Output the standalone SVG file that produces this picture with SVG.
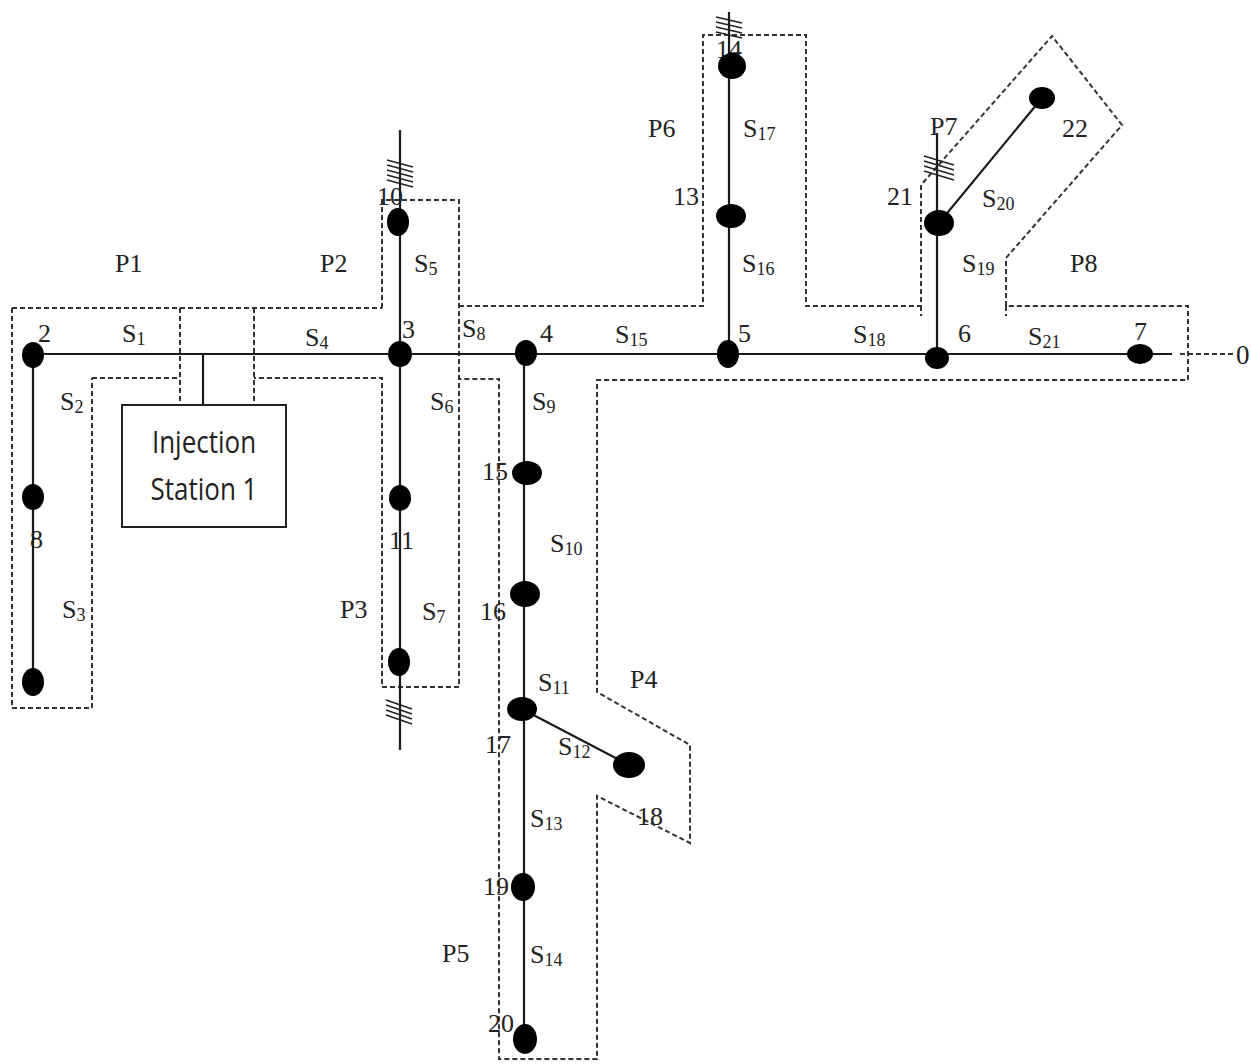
<svg xmlns="http://www.w3.org/2000/svg" width="1251" height="1064" viewBox="0 0 1251 1064">
<style>
.pipe{stroke:#1a1a1a;stroke-width:2.2;fill:none}
.dash{stroke:#333;stroke-width:2;fill:none;stroke-dasharray:5 3}
.hatch{stroke:#222;stroke-width:1.6;fill:none}
.node{fill:#000}
.lbl{font-family:"Liberation Serif","Times New Roman",serif;font-size:26px;fill:#222}
.sub{font-size:18px}
.box{fill:#fff;stroke:#222;stroke-width:2}
.boxt{font-family:"Open Sans","Liberation Sans",sans-serif;font-size:26px;fill:#222;text-anchor:middle}
</style>
<rect width="1251" height="1064" fill="#fff"/>
<g id="partitions">
<path class="dash" d="M12,308 H382 M382,308 V200 H459 V687 H382 V378 H254 M254,308 V405 M180,308 V405 M92,378 H180 M12,308 V708 H92 V378"/>
<path class="dash" d="M459,306 H703 V35 H806 V306 H921 V185 L1052,36 L1122,125 L1006,258 V306 H1188 V380 H597 V692 L690,745 V843 L597,796 V1059 H499 V379 H459"/>
<path class="dash" d="M921,306 V316 M1006,306 V316"/>
</g>
<g id="connectors">
<path class="pipe" d="M33,354 H1172"/>
<path class="dash" d="M1180,354 H1233"/>
<path class="pipe" d="M203,354 V405"/>
<path class="pipe" d="M33,354 V682"/>
<path class="pipe" d="M400,130 V750"/>
<path class="pipe" d="M524,353 V1038"/>
<path class="pipe" d="M729,12 V354"/>
<path class="pipe" d="M937,133 V358"/>
<path class="pipe" d="M522,709 L629,765"/>
<path class="pipe" d="M939,223 L1042,98"/>
</g>
<g id="hatches">
<path class="hatch" d="M387,160 l26,7 M387,165 l26,7 M387,170 l26,7 M387,175 l26,7 M387,180 l26,7"/>
<path class="hatch" d="M386,700 l26,9 M386,705 l26,9 M386,710 l26,9 M386,715 l26,9"/>
<path class="hatch" d="M716,17 l26,6 M716,22 l26,6 M716,27 l26,6 M716,32 l26,6"/>
<path class="hatch" d="M924,156 l30,9 M924,161 l30,9 M924,166 l30,9 M924,171 l30,9"/>
</g>
<g id="injection-station">
<rect class="box" x="122" y="405" width="164" height="122"/>
<text class="boxt" transform="translate(204,453) scale(1,1.18)">Injection</text>
<text class="boxt" transform="translate(204,500) scale(1,1.18)">Station 1</text>
</g>
<g id="labels-under">
<text class="lbl" x="716" y="58">14</text>
</g>
<g id="nodes">
<ellipse id="n2" class="node" cx="33" cy="355" rx="11" ry="13"/>
<ellipse id="n8" class="node" cx="33" cy="497" rx="11" ry="13"/>
<ellipse id="n9" class="node" cx="33" cy="682" rx="11" ry="14"/>
<ellipse id="n3" class="node" cx="400" cy="354" rx="12" ry="13"/>
<ellipse id="n10" class="node" cx="398" cy="222" rx="11" ry="14"/>
<ellipse id="n11" class="node" cx="400" cy="498" rx="11" ry="13"/>
<ellipse id="n12" class="node" cx="399" cy="662" rx="11" ry="14"/>
<ellipse id="n4" class="node" cx="526" cy="353" rx="11" ry="13"/>
<ellipse id="n15" class="node" cx="527" cy="473" rx="15" ry="12"/>
<ellipse id="n16" class="node" cx="525" cy="594" rx="15" ry="13"/>
<ellipse id="n17" class="node" cx="522" cy="709" rx="15" ry="12"/>
<ellipse id="n18" class="node" cx="629" cy="765" rx="16" ry="13"/>
<ellipse id="n19" class="node" cx="523" cy="887" rx="12" ry="14"/>
<ellipse id="n20" class="node" cx="525" cy="1039" rx="12" ry="15"/>
<ellipse id="n5" class="node" cx="728" cy="354" rx="11" ry="14"/>
<ellipse id="n13" class="node" cx="731" cy="216" rx="15" ry="12"/>
<ellipse id="n14" class="node" cx="732" cy="66" rx="14" ry="13"/>
<ellipse id="n6" class="node" cx="937" cy="358" rx="12" ry="11"/>
<ellipse id="n21" class="node" cx="939" cy="223" rx="15" ry="13"/>
<ellipse id="n22" class="node" cx="1042" cy="98" rx="13" ry="11"/>
<ellipse id="n7" class="node" cx="1140" cy="354" rx="13" ry="10"/>
</g>
<g id="labels">
<text class="lbl" x="115" y="272">P1</text>
<text class="lbl" x="320" y="272">P2</text>
<text class="lbl" x="340" y="618">P3</text>
<text class="lbl" x="630" y="688">P4</text>
<text class="lbl" x="442" y="962">P5</text>
<text class="lbl" x="648" y="137">P6</text>
<text class="lbl" x="930" y="135">P7</text>
<text class="lbl" x="1070" y="272">P8</text>
<text class="lbl" x="38" y="342">2</text>
<text class="lbl" x="30" y="548">8</text>
<text class="lbl" x="402" y="338">3</text>
<text class="lbl" x="377" y="205">10</text>
<text class="lbl" x="389" y="549">11</text>
<text class="lbl" x="540" y="342">4</text>
<text class="lbl" x="482" y="480">15</text>
<text class="lbl" x="480" y="620">16</text>
<text class="lbl" x="485" y="753">17</text>
<text class="lbl" x="637" y="825">18</text>
<text class="lbl" x="483" y="895">19</text>
<text class="lbl" x="488" y="1032">20</text>
<text class="lbl" x="738" y="342">5</text>
<text class="lbl" x="673" y="205">13</text>
<text class="lbl" x="958" y="342">6</text>
<text class="lbl" x="887" y="205">21</text>
<text class="lbl" x="1062" y="137">22</text>
<text class="lbl" x="1134" y="340">7</text>
<text class="lbl" x="1236" y="364" style="font-size:27px">0</text>
<text class="lbl" x="122" y="342">S<tspan class="sub" dy="3">1</tspan></text>
<text class="lbl" x="60" y="410">S<tspan class="sub" dy="3">2</tspan></text>
<text class="lbl" x="62" y="618">S<tspan class="sub" dy="3">3</tspan></text>
<text class="lbl" x="305" y="346">S<tspan class="sub" dy="3">4</tspan></text>
<text class="lbl" x="414" y="272">S<tspan class="sub" dy="3">5</tspan></text>
<text class="lbl" x="430" y="410">S<tspan class="sub" dy="3">6</tspan></text>
<text class="lbl" x="422" y="620">S<tspan class="sub" dy="3">7</tspan></text>
<text class="lbl" x="462" y="337">S<tspan class="sub" dy="3">8</tspan></text>
<text class="lbl" x="532" y="410">S<tspan class="sub" dy="3">9</tspan></text>
<text class="lbl" x="550" y="552">S<tspan class="sub" dy="3">10</tspan></text>
<text class="lbl" x="538" y="691">S<tspan class="sub" dy="3">11</tspan></text>
<text class="lbl" x="558" y="755">S<tspan class="sub" dy="3">12</tspan></text>
<text class="lbl" x="530" y="827">S<tspan class="sub" dy="3">13</tspan></text>
<text class="lbl" x="530" y="963">S<tspan class="sub" dy="3">14</tspan></text>
<text class="lbl" x="615" y="343">S<tspan class="sub" dy="3">15</tspan></text>
<text class="lbl" x="742" y="272">S<tspan class="sub" dy="3">16</tspan></text>
<text class="lbl" x="743" y="137">S<tspan class="sub" dy="3">17</tspan></text>
<text class="lbl" x="853" y="343">S<tspan class="sub" dy="3">18</tspan></text>
<text class="lbl" x="962" y="272">S<tspan class="sub" dy="3">19</tspan></text>
<text class="lbl" x="982" y="207">S<tspan class="sub" dy="3">20</tspan></text>
<text class="lbl" x="1028" y="345">S<tspan class="sub" dy="3">21</tspan></text>
</g>
</svg>
